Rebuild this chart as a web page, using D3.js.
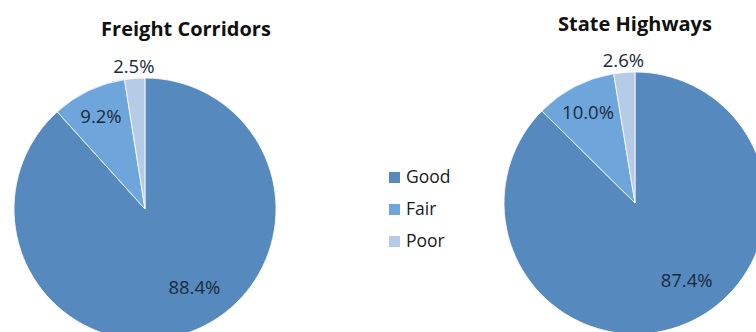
<!DOCTYPE html>
<html>
<head>
<meta charset="utf-8">
<script src="https://cdn.jsdelivr.net/npm/d3@7"></script>
<style>
  html, body { margin: 0; padding: 0; background: #fff; }
  svg { display: block; }
</style>
</head>
<body>
<svg id="chart" width="756" height="332"></svg>
<script>
// data
var categories = ['Good', 'Fair', 'Poor'];
var chartTitles = ['Freight Corridors', 'State Highways'];
var freightValues = [88.4, 9.2, 2.5];
var stateValues = [87.4, 10.0, 2.6];

var colors = d3.scaleOrdinal()
    .domain(categories)
    .range(['#5689bd', '#6ea6db', '#b6cbe6']);

var svg = d3.select('#chart');
var font = '"Open Sans", "Noto Sans", sans-serif';

// one pie per network
var pies = [
    {title: chartTitles[0], values: freightValues, cx: 145, cy: 209, titleX: 186, titleY: 36},
    {title: chartTitles[1], values: stateValues, cx: 635, cy: 203, titleX: 635, titleY: 31}
];

var radius = 131;
var pie = d3.pie().sort(null).value(function(d) { return d; });
var arc = d3.arc().innerRadius(0).outerRadius(radius);

pies.forEach(function(p) {
    var g = svg.append('g')
        .attr('transform', 'translate(' + p.cx + ',' + p.cy + ')');

    var slices = pie(p.values);

    g.selectAll('path')
        .data(slices)
        .enter().append('path')
        .attr('d', arc)
        .attr('fill', function(d, i) { return colors(categories[i]); })
        .attr('stroke', '#fff')
        .attr('stroke-width', 0.8);

    // labels: big slice inside, small ones near / outside the rim
    g.selectAll('text.lbl')
        .data(slices)
        .enter().append('text')
        .attr('class', 'lbl')
        .attr('transform', function(d, i) {
            var a = (d.startAngle + d.endAngle) / 2;
            var r = radius * 0.71;
            if (i === 0) a -= 11 * Math.PI / 180;
            if (i === 1) r = radius * 0.78;
            if (i === 2) r = radius * 1.09;
            return 'translate(' + (Math.sin(a) * r) + ',' + (-Math.cos(a) * r) + ')';
        })
        .attr('text-anchor', 'middle')
        .attr('dy', '0.35em')
        .attr('font-family', font)
        .attr('font-size', 18.5)
        .attr('fill', '#1b2940')
        .text(function(d) { return d3.format('.1f')(d.data) + '%'; });

    svg.append('text')
        .attr('x', p.titleX)
        .attr('y', p.titleY)
        .attr('text-anchor', 'middle')
        .attr('font-family', font)
        .attr('font-weight', 'bold')
        .attr('font-size', 20)
        .attr('fill', '#111')
        .text(p.title);
});

// legend
var legend = svg.append('g').attr('transform', 'translate(389,177)');
var rowY = d3.scalePoint().domain(categories).range([0, 64]);

var rows = legend.selectAll('g')
    .data(categories)
    .enter().append('g')
    .attr('transform', function(d) { return 'translate(0,' + rowY(d) + ')'; });

rows.append('rect')
    .attr('x', 0).attr('y', -5)
    .attr('width', 11).attr('height', 11)
    .attr('fill', function(d) { return colors(d); });

rows.append('text')
    .attr('x', 17)
    .attr('dy', '0.35em')
    .attr('font-family', font)
    .attr('font-size', 17.5)
    .attr('fill', '#1a1a1a')
    .text(function(d) { return d; });
</script>
</body>
</html>
